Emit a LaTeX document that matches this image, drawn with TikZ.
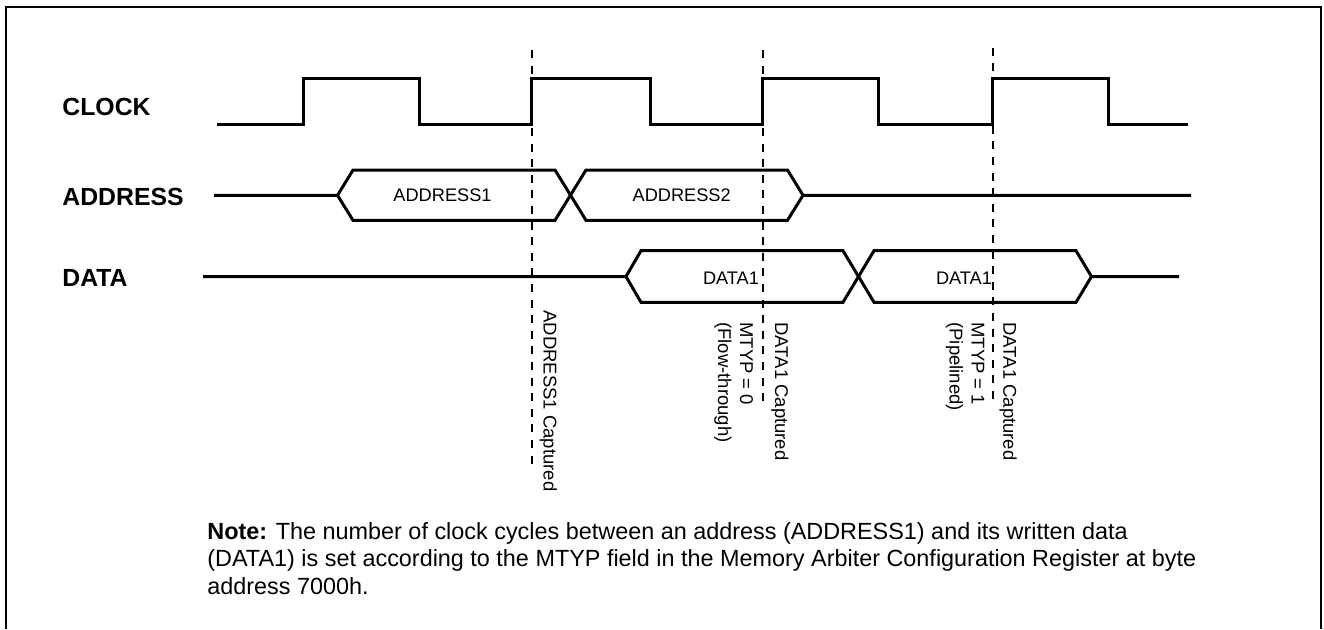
\documentclass[tikz,border=0pt]{standalone}
\usepackage{fontspec}
\setmainfont{Liberation Sans}
\usetikzlibrary{positioning,calc}
\newcommand{\capnode}[1]{\parbox[t]{4cm}{\fontsize{9.25pt}{11pt}\selectfont #1}}

\begin{document}
\begin{tikzpicture}
[x=.5pt,y=-.5pt,
wave/.style={black,line width=1.5pt,line join=miter},
marker/.style={black,line width=1pt,dash pattern=on 4pt off 3.8pt},
sig/.style={font=\fontsize{12.4pt}{14pt}\selectfont\bfseries,anchor=base west,inner sep=0},
buslabel/.style={font=\fontsize{9.1pt}{11pt}\selectfont,inner sep=0},
vlabel/.style={rotate=-90,anchor=base west,inner sep=0,font=\fontsize{9.25pt}{11pt}\selectfont}]
\useasboundingbox (0,0) rectangle (1324,629);
\draw[line width=1pt] (6,629) |- (1320.5,7.3) -- (1320.5,629);
%%
\node[sig] (clk) at (62,115) {CLOCK};
\node[sig] (addr) at (62,205) {ADDRESS};
\node[sig] (data) at (62,286.7) {DATA};
%% clock
\draw[wave] (217,124.5) foreach \r/\f in {303/419,531/650,762/878,992/1108}
{ -- (\r,124.5) -- (\r,78.3) -- (\f,78.3) -- (\f,124.5) } -- (1188,124.5);
%% address bus
\draw[wave] (214,195.3) -- (337.5,195.3) -- (353,170) -- (555,170) -- (586,220.3)
-- (787.5,220.3) -- (803,195.3) -- (1191,195.3);
\draw[wave] (337.5,195.3) -- (353,220.3) -- (555,220.3) -- (586,170) -- (787.5,170)
-- (803,195.3);
\node[buslabel] (a1) at (442.5,195) {ADDRESS1};
\node[buslabel] (a2) at (681.7,195) {ADDRESS2};
%% data bus
\draw[wave] (203,276.5) -- (626,276.5) -- (641,250.7) -- (843,250.7) -- (874,302.3)
-- (1076,302.3) -- (1091.5,276.5) -- (1179,276.5);
\draw[wave] (626,276.5) -- (641,302.3) -- (843,302.3) -- (874,250.7) -- (1076,250.7)
-- (1091.5,276.5);
\node[buslabel] (d1) at (731,278) {DATA1};
\node[buslabel] (d2) at (964,278) {DATA1};
%% capture edges
\foreach \x/\t/\b in {531.5/50/465,762.5/50/408,993/47.7/402}
\draw[marker] (\x,\t) -- (\x,\b);
\node[vlabel] (cap1) at (543.5,310) {ADDRESS1 Captured};
\node[vlabel] (cap2) at (775,322) {DATA1 Captured};
\node[vlabel] (cap3) at (1003.3,322) {DATA1 Captured};
\node[vlabel] (mt0) at (740,322) {\capnode{MTYP = 0\\(Flow-through)}};
\node[vlabel] (mt1) at (971.7,322) {\capnode{MTYP = 1\\(Pipelined)}};
%% note
\node[anchor=base west,inner sep=0,font=\fontsize{11.7pt}{13.75pt}\selectfont] (note)
at (207,539) {\parbox[t]{600pt}{\textbf{Note:} The number of clock cycles between an
address (ADDRESS1) and its written data\\(DATA1) is set according to the MTYP field
in the Memory Arbiter Configuration Register at byte\\address 7000h.}};
\end{tikzpicture}
\end{document}
